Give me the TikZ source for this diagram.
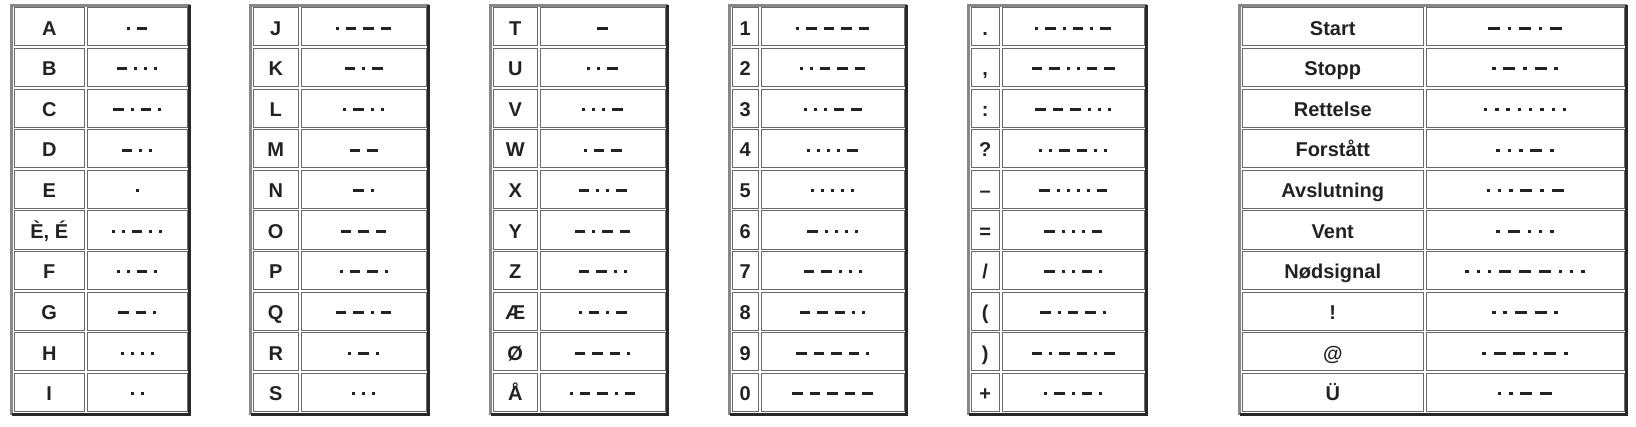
\documentclass[tikz,border=0pt]{standalone}
\usepackage{fontspec}
\setmainfont{Liberation Sans}
\definecolor{ink}{RGB}{34,34,34}
\definecolor{cellline}{RGB}{105,105,105}
\definecolor{framelight}{RGB}{136,136,136}
\definecolor{framedark}{RGB}{40,40,40}

\newlength\mdot \setlength\mdot{1.5pt}
\newlength\mdash \setlength\mdash{5.25pt}
\newlength\mgap \setlength\mgap{3.5pt}
\newcommand\mdi{\rule[2.7pt]{\mdot}{1.5pt}\hspace{\mgap}}
\newcommand\mdah{\rule[2.7pt]{\mdash}{1.5pt}\hspace{\mgap}}
\def\morseloop#1{\ifx#1\relax\else\if#1.\mdi\else\mdah\fi\expandafter\morseloop\fi}
\newcommand\morse[1]{\expandafter\morseloop#1\relax\unskip}

\tikzset{key/.style={draw=cellline,line width=0.5pt,inner sep=0pt,minimum height=19pt,
            font=\bfseries\fontsize{10}{12}\selectfont,text=ink,text height=8.2pt,text depth=0pt},
         code/.style={key},
         wide code/.style={key,execute at begin node={\setlength\mdot{1.75pt}%
            \setlength\mdash{6pt}\setlength\mgap{3.9pt}}},
         frame light/.style={draw=framelight,line width=1.5pt,line cap=square},
         frame dark/.style={draw=framedark,line width=1.5pt,line cap=square},
            }

% #1 table, #2 left, #3 right, #4 column split, #5 code style, #6 rows
\newcommand\mtable[6]{%
    \draw[frame light] (#2+1.5,414.5) |- (#3-1.5,5.5);
    \draw[frame dark] (#3-1.5,5.5) |- (#2+1.5,414.5);
    \foreach \mlabel/\mcode [count=\i from 0] in {#6} {
        \node[key,minimum width={(#4-#2-4.5)*0.5pt}] (k#1-\i)
            at ({(#2+3.5+#4)/2},{27+40.6*\i}) {\mlabel};
        \node[#5,minimum width={(#3-#4-6)*0.5pt}] (c#1-\i)
            at ({(#4+1.5+#3-3.5)/2},{27+40.6*\i}) {\morse{\mcode}};
    }
}

\begin{document}
\begin{tikzpicture}[x=0.5pt,y=-0.5pt]
    \fill[white] (0,0) rectangle (1636,427);

    \mtable{1}{10}{191}{85}{code}{{A}/{.-},{B}/{-...},{C}/{-.-.},{D}/{-..},{E}/{.},
        {È, É}/{..-..},{F}/{..-.},{G}/{--.},{H}/{....},{I}/{..}}
    \mtable{2}{249}{430}{299}{code}{{J}/{.---},{K}/{-.-},{L}/{.-..},{M}/{--},{N}/{-.},
        {O}/{---},{P}/{.--.},{Q}/{--.-},{R}/{.-.},{S}/{...}}
    \mtable{3}{489}{669}{538}{code}{{T}/{-},{U}/{..-},{V}/{...-},{W}/{.--},{X}/{-..-},
        {Y}/{-.--},{Z}/{--..},{Æ}/{.-.-},{Ø}/{---.},{Å}/{.--.-}}
    \mtable{4}{728}{908}{759}{code}{{1}/{.----},{2}/{..---},{3}/{...--},{4}/{....-},
        {5}/{.....},{6}/{-....},{7}/{--...},{8}/{---..},{9}/{----.},{0}/{-----}}
    \mtable{5}{967}{1148}{1000}{code}{{.}/{.-.-.-},{,}/{--..--},{:}/{---...},{?}/{..--..},
        {–}/{-....-},{=}/{-...-},{/}/{-..-.},{(}/{-.--.},{)}/{-.--.-},{+}/{.-.-.}}
    \mtable{6}{1238}{1628}{1424}{wide code}{{Start}/{-.-.-},{Stopp}/{.-.-.},
        {Rettelse}/{........},{Forstått}/{...-.},{Avslutning}/{...-.-},{Vent}/{.-...},
        {Nødsignal}/{...---...},{!}/{..--.},{@}/{.--.-.},{Ü}/{..--}}
\end{tikzpicture}
\end{document}
